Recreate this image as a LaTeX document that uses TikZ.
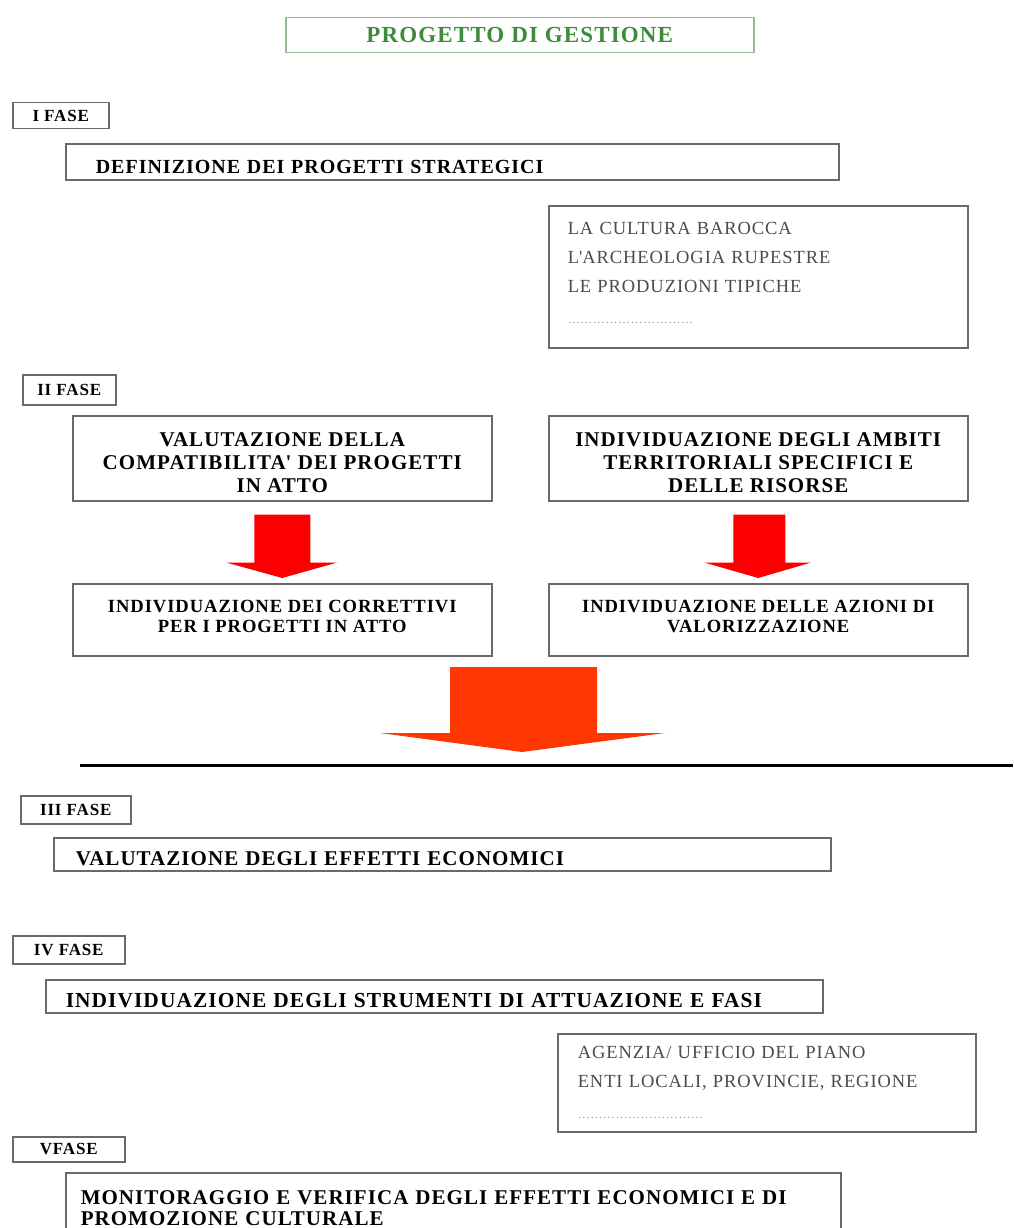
\documentclass[tikz,border=0pt]{standalone}
\usepackage{fontspec}
\setmainfont{Liberation Serif}[LetterSpace=5]
\usetikzlibrary{calc}
\usepackage{xcolor}
\definecolor{boxgray}{RGB}{105,105,105}
\definecolor{titlegreen}{RGB}{60,140,60}
\definecolor{titleframe}{RGB}{150,185,150}
\definecolor{listgray}{RGB}{75,75,75}
\definecolor{arrowred}{RGB}{250,0,0}
\definecolor{bigred}{RGB}{255,55,0}
\newcommand{\puntini}{{\color{gray!85}\fontsize{12}{10}\selectfont …………………………}}
\newcommand{\alto}{\rule{0pt}{22pt}}
\newcommand{\basso}[1]{\rule[-#1]{0pt}{0pt}}

\tikzset{
	box/.style={draw=boxgray, line width=1.5pt, anchor=north west, inner ysep=0pt},
	titlebox/.style={box, draw=titleframe, text=titlegreen, font=\bfseries\fontsize{23}{26}\selectfont},
	fasebox/.style={box, font=\bfseries\fontsize{17}{18}\selectfont},
	widebox/.style={box, align=left, font=\bfseries\fontsize{21}{21}\selectfont},
	barra/.style={widebox, text height=23pt},
	centrebox/.style={box, align=center, font=\bfseries\fontsize{21}{23}\selectfont},
	smallbox/.style={box, align=center, font=\bfseries\fontsize{18.6}{20}\selectfont},
	listbox/.style={box, align=left, text=listgray, font=\fontsize{18.5}{29}\selectfont},
	redarrow/.style={fill=arrowred},
	bigarrow/.style={fill=bigred}
}

\begin{document}
\begin{tikzpicture}[x=1pt,y=-1pt]
	\useasboundingbox (0,0) rectangle (1013,1228);
	\node[titlebox, minimum width=468pt, minimum height=35pt] (titolo) at (285,17) {PROGETTO DI GESTIONE};
	% I fase
	\node[fasebox, minimum width=96pt, minimum height=26pt] (fase1) at (12,102) {I FASE};
	\node[barra, inner xsep=30pt, text width=713pt, minimum height=36pt, font=\bfseries\fontsize{20}{21}\selectfont] (strategici) at (65,143) {DEFINIZIONE DEI PROGETTI STRATEGICI};
	\node[listbox, inner xsep=19pt, text width=381pt, minimum height=142pt] (temi) at (548,205) {LA CULTURA BAROCCA\\ L\textquotesingle ARCHEOLOGIA RUPESTRE\\ LE PRODUZIONI TIPICHE\\[2pt] \puntini\basso{8pt}};
	% II fase
	\node[fasebox, minimum width=93pt, minimum height=30pt] (fase2) at (22,374) {II FASE};
	\node[centrebox, minimum width=419pt, minimum height=85pt] (valA) at (72,415) {\alto VALUTAZIONE DELLA\\ COMPATIBILITA\textquotesingle{} DEI PROGETTI\\ IN ATTO};
	\node[centrebox, minimum width=419pt, minimum height=85pt] (indB) at (548,415) {\alto INDIVIDUAZIONE DEGLI AMBITI\\ TERRITORIALI SPECIFICI E\\ DELLE RISORSE};
	\node[smallbox, minimum width=419pt, minimum height=72pt] (corC) at (72,583) {INDIVIDUAZIONE DEI CORRETTIVI\\ PER I PROGETTI IN ATTO\basso{6pt}};
	\node[smallbox, minimum width=419pt, minimum height=72pt] (azD) at (548,583) {INDIVIDUAZIONE DELLE AZIONI DI\\ VALORIZZAZIONE\basso{6pt}};
	% frecce rosse
	\fill[redarrow] ($(valA.south)+(-28,13)$) -- ($(valA.south)+(28,13)$) -- ($(valA.south)+(28,61)$) -- ($(valA.south)+(55,61)$) -- ($(corC.north)+(0,-5)$) -- ($(valA.south)+(-56,61)$) -- ($(valA.south)+(-28,61)$) -- cycle;
	\fill[redarrow] ($(indB.south)+(-25,13)$) -- ($(indB.south)+(27,13)$) -- ($(indB.south)+(27,61)$) -- ($(indB.south)+(53,61)$) -- ($(azD.north)+(0,-5)$) -- ($(indB.south)+(-54,61)$) -- ($(indB.south)+(-25,61)$) -- cycle;
	\coordinate (snodo) at (522,667);
	\coordinate (punta) at (522,752);
	\fill[bigarrow] ($(snodo)+(-72,0)$) -- ($(snodo)+(75,0)$) -- ($(snodo)+(75,66)$) -- ($(snodo)+(143,66)$) -- (punta) -- ($(snodo)+(-142,66)$) -- ($(snodo)+(-72,66)$) -- cycle;
	\draw[line width=3pt] (80,765) -- (1013,765);
	% III fase
	\node[fasebox, minimum width=110pt, minimum height=28pt] (fase3) at (20,795) {III FASE};
	\node[barra, inner xsep=22pt, text width=733pt, minimum height=33pt, font=\bfseries\fontsize{21}{22}\selectfont] (effetti) at (53,837) {VALUTAZIONE DEGLI EFFETTI ECONOMICI};
	% IV fase
	\node[fasebox, minimum width=112pt, minimum height=28pt] (fase4) at (12,935) {IV FASE};
	\node[barra, inner xsep=20pt, text width=737pt, minimum height=33pt, font=\bfseries\fontsize{21.4}{22}\selectfont] (strumenti) at (45,979) {INDIVIDUAZIONE DEGLI STRUMENTI DI ATTUAZIONE E FASI};
	\node[listbox, inner xsep=20pt, text width=378pt, minimum height=98pt] (enti) at (557,1033) {AGENZIA/ UFFICIO DEL PIANO\\ ENTI LOCALI, PROVINCIE, REGIONE\\[2pt] \puntini};
	% V fase
	\node[fasebox, minimum width=112pt, minimum height=25pt] (fase5) at (12,1136) {VFASE};
	\node[widebox, inner xsep=15pt, text width=745pt, minimum height=70pt] (monitoraggio) at (65,1172) {MONITORAGGIO E VERIFICA DEGLI EFFETTI ECONOMICI E DI\\ PROMOZIONE CULTURALE};
\end{tikzpicture}
\end{document}
